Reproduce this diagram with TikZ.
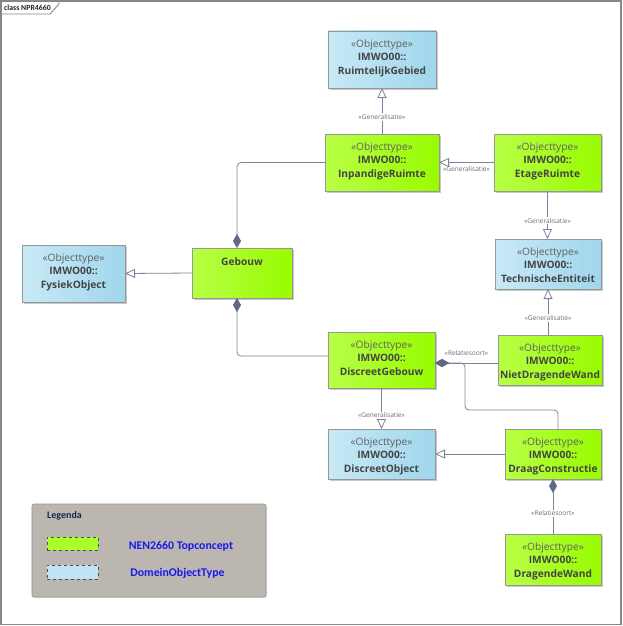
\documentclass[tikz,border=0pt]{standalone}
\usepackage{fontspec}
\setmainfont{Open Sans}
\newfontfamily\legfont{Carlito}
\usetikzlibrary{arrows.meta,shadows,calc}
\definecolor{gL}{RGB}{184,255,70}
\definecolor{gR}{RGB}{152,252,0}
\definecolor{bL}{RGB}{200,233,246}
\definecolor{bR}{RGB}{160,214,236}
\definecolor{boxline}{RGB}{150,150,150}
\definecolor{conn}{RGB}{122,130,158}
\definecolor{diam}{RGB}{95,105,135}
\definecolor{txt}{RGB}{68,68,68}
\definecolor{stx}{RGB}{95,95,95}
\definecolor{lblc}{RGB}{110,110,110}
\definecolor{legbg}{RGB}{188,182,177}
\definecolor{legblue}{RGB}{25,25,235}
\definecolor{legdark}{RGB}{25,40,80}
\definecolor{framec}{RGB}{135,135,135}
\newcommand\mkbox[7]{%
  \node[#2, minimum width=#5pt, minimum height=#6pt] (#1) at (#3,#4) {};
  \node[btxt] (#1-t) at ($(#1.north)+(0,8.5)$) {{\color{stx}«Objecttype»}\\\textbf{IMWO00::}\\\textbf{#7}};}
\begin{document}
\begin{tikzpicture}[x=1pt,y=-1pt,
  umlbox/.style={draw=boxline, line width=0.8pt, inner sep=0pt, outer sep=0pt,
    drop shadow={shadow xshift=1.5pt, shadow yshift=-1.5pt, opacity=0.3, fill=black!70}},
  greenbox/.style={umlbox, left color=gL, right color=gR},
  bluebox/.style={umlbox, left color=bL, right color=bR},
  btxt/.style={anchor=north, align=center, inner sep=0pt, font=\fontsize{10.2}{13.5}\selectfont, text=txt},
  lbl/.style={font=\fontsize{6.6}{7.5}\selectfont, text=lblc, inner sep=1pt, fill=white},
  gen/.style={draw=conn, line width=0.8pt, -{Triangle[open, length=10pt, width=9pt, fill=white]}},
  compo/.style={draw=conn, line width=0.8pt, {Diamond[length=14pt, width=8pt, fill=diam, color=diam]}-},
  frame/.style={draw=framec, line width=1.2pt}
]
\useasboundingbox (0,0) rectangle (623,626);
\fill[white] (0,0) rectangle (623,626);
% frame
\draw[frame] (1,1) rectangle (621,624.5);
\draw[frame, line width=0.9pt] (1,14) -- (50,14) -- (59,4) -- (59,1);
\node[anchor=west, inner sep=0pt, font=\legfont\bfseries\fontsize{7.8}{9}\selectfont, text=black!85] (title) at (4,7.5) {class NPR4660};

% boxes
\mkbox{rg}{bluebox}{382}{59.5}{108}{57}{RuimtelijkGebied}
\mkbox{ir}{greenbox}{382}{162.5}{114}{57}{InpandigeRuimte}
\mkbox{er}{greenbox}{547.5}{162.5}{107}{57}{EtageRuimte}
\mkbox{te}{bluebox}{548}{264}{106}{50}{TechnischeEntiteit}
\mkbox{ndw}{greenbox}{550}{360}{104}{50}{NietDragendeWand}
\mkbox{dg}{greenbox}{381.5}{360}{107}{56}{DiscreetGebouw}
\mkbox{do}{bluebox}{381.5}{454}{107}{50}{DiscreetObject}
\mkbox{dc}{greenbox}{553}{454}{96}{50}{DraagConstructie}
\mkbox{dw}{greenbox}{553}{559.5}{96}{51}{DragendeWand}
\mkbox{fo}{bluebox}{73.5}{273.5}{103}{57}{FysiekObject}
\node[greenbox, minimum width=100pt, minimum height=50pt] (geb) at (242,273) {};
\node[btxt, font=\fontsize{10.2}{13.5}\selectfont\bfseries] (geb-t) at ($(geb.north)+(0,10)$) {Gebouw};

% connectors
\draw[gen] (ir.north) -- node[lbl, pos=0.37] {«Generalisatie»} (rg.south);
\draw[gen] (er.west) -- node[lbl, below=3pt, pos=0.5, fill=none] {«Generalisatie»} (ir.east);
\draw[gen] (er.south) -- node[lbl, pos=0.62] {«Generalisatie»} (er.south |- te.north);
\draw[gen] (te.south |- ndw.north) -- node[lbl, pos=0.37] {«Generalisatie»} (te.south);
\draw[compo] ($(dg.east)+(0,3)$) -- node[lbl, above=6pt, pos=0.5, fill=none] {«Relatiesoort»} ($(ndw.west)+(0,3)$);
\draw[compo, rounded corners=4pt] ($(dg.east)+(0,3)$) -- ($(dg.east)+(30,3)$) -- ($(dg.east)+(30,50)$) -- ($(dc.north)+(5,-19)$) -- ($(dc.north)+(5,0)$);
\draw[gen] (dg.south) -- node[lbl, pos=0.66] {«Generalisatie»} (do.north);
\draw[gen] (dc.west) -- (do.east);
\draw[compo] (dc.south) -- node[lbl, pos=0.62] {«Relatiesoort»} (dw.north);
\draw[gen] (geb.west) -- (fo.east);
\draw[compo, rounded corners=4pt] ($(geb.north)+(-5,0)$) |- (ir.west);
\draw[compo, rounded corners=4pt] ($(geb.south)+(-5,0)$) |- ($(dg.west)+(0,-4)$);

% legend
\node[draw=legbg!80!black, fill=legbg, rounded corners=2pt, line width=0.6pt, minimum width=234pt, minimum height=93pt, inner sep=0pt,
  drop shadow={shadow xshift=1pt, shadow yshift=-1pt, opacity=0.2}] (leg) at (149,550.5) {};
\node[anchor=west, inner sep=0pt, font=\legfont\bfseries\fontsize{10}{11}\selectfont, text=legdark] (legt) at (47,516) {Legenda};
\node[draw=black!70, dashed, line width=0.7pt, fill=gL!60!gR, minimum width=51pt, minimum height=13pt, inner sep=0pt] (sw1) at (72.5,543.5) {};
\node[draw=black!70, dashed, line width=0.7pt, fill=bL!80!bR, minimum width=51pt, minimum height=14pt, inner sep=0pt] (sw2) at (72.5,572) {};
\node[inner sep=0pt, font=\legfont\bfseries\fontsize{11.8}{13}\selectfont, text=legblue] (l1) at (181,546) {NEN2660 Topconcept};
\node[inner sep=0pt, font=\legfont\bfseries\fontsize{11.8}{13}\selectfont, text=legblue] (l2) at (177.5,573) {DomeinObjectType};
\end{tikzpicture}
\end{document}
